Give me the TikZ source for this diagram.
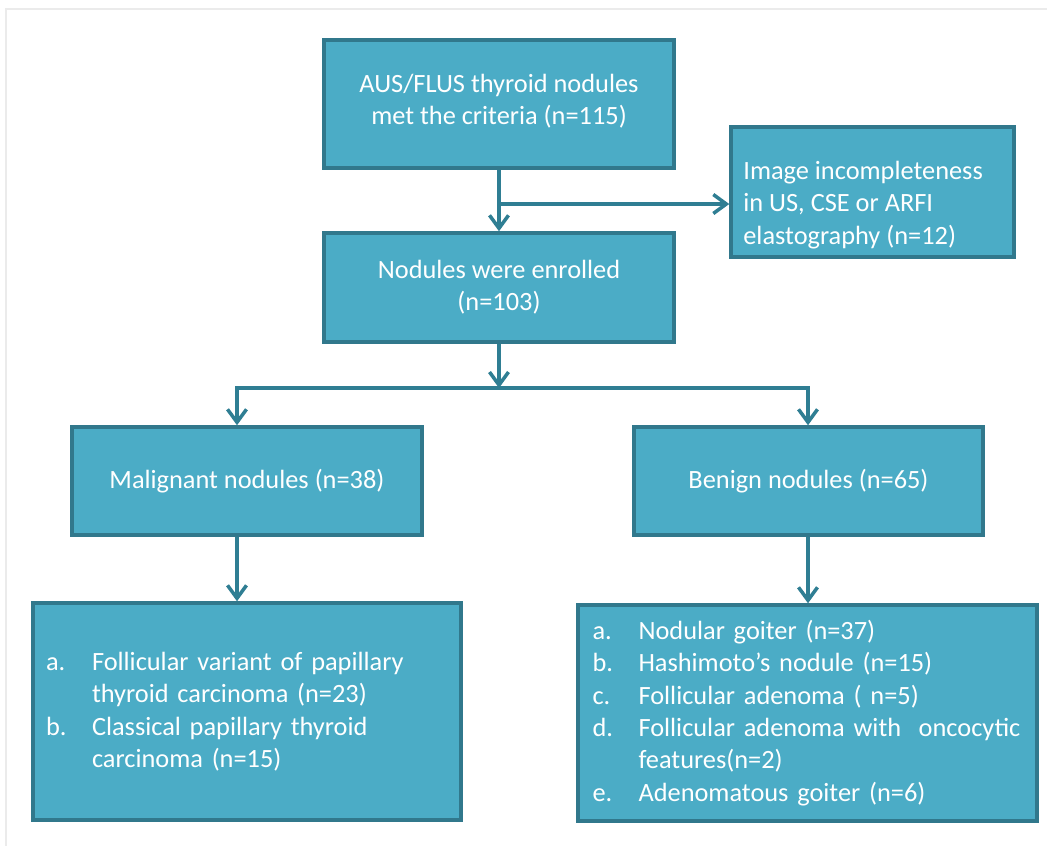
\documentclass[tikz,border=0pt]{standalone}
\usepackage{fontspec}
\setmainfont{Carlito}
\usetikzlibrary{arrows.meta, positioning}
\definecolor{boxfill}{HTML}{4BACC6}
\definecolor{boxline}{HTML}{31788C}
\definecolor{linkcol}{HTML}{2F7E93}
\definecolor{framegray}{HTML}{EBEBEB}
\newcommand{\lbl}[1]{\makebox[0.92cm][l]{#1}}

\begin{document}
\begin{tikzpicture}[
    x=0.02cm, y=-0.02cm,
    box/.style={draw=boxline, line width=2pt, fill=boxfill, text=white, font=\fontsize{15}{18.4}\selectfont, align=center, inner sep=0pt},
    boxtext/.style={text=white, font=\fontsize{15}{18.4}\selectfont, align=left, inner sep=0pt},
    listbox/.style={box, align=left, inner ysep=0pt},
    link/.style={draw=linkcol, line width=2pt},
    arrow/.style={link, -{Straight Barb[length=2.6mm, width=3.8mm, line width=2pt]}}
]
    \useasboundingbox (0,0) rectangle (1047,846);
    \draw[framegray, line width=0.6pt] (6,846) -- (6,9) -- (1047,9);

    % Boxes
    \node[box, minimum width=7cm, minimum height=2.56cm] (top) at (499,104) {AUS/FLUS thyroid nodules\\met the criteria (n=115)\\[-0.45cm]};
    \node[box, minimum width=5.66cm, minimum height=2.6cm] (exc) at (872.5,192) {};
    \node[boxtext, anchor=west] (excT) at (743,205) {Image incompleteness\\in US, CSE or ARFI\\elastography (n=12)};
    \node[box, minimum width=7cm, minimum height=2.18cm] (enr) at (499,287.5) {Nodules were enrolled\\(n=103)};
    \node[box, minimum width=7cm, minimum height=2.16cm] (mal) at (247,481) {Malignant nodules (n=38)};
    \node[box, minimum width=6.98cm, minimum height=2.16cm] (ben) at (808.5,481) {Benign nodules (n=65)};

    % Lists
    \node[listbox, text width=8.04cm, inner xsep=0.26cm, minimum height=4.34cm] (malL) at (247,711.5) {%
        \lbl{a.}Follicular variant of papillary\\
        \lbl{}thyroid carcinoma (n=23)\\
        \lbl{b.}Classical papillary thyroid\\
        \lbl{}carcinoma (n=15)};
    \node[listbox, text width=8.6cm, inner xsep=0.29cm, minimum height=4.32cm] (benL) at (807.5,713) {%
        \lbl{a.}Nodular goiter (n=37)\\
        \lbl{b.}Hashimoto’s nodule (n=15)\\
        \lbl{c.}Follicular adenoma ( n=5)\\
        \lbl{d.}\mbox{Follicular adenoma with\ \ oncocytic}\\
        \lbl{}features(n=2)\\
        \lbl{e.}Adenomatous goiter (n=6)};

    % Split points
    \coordinate (brk) at (499,204);
    \coordinate (split) at (499,388);
    \coordinate (splitL) at (237,388);
    \coordinate (splitR) at (808,388);

    % Connectors
    \draw[arrow] (top) -- (enr);
    \draw[arrow] (brk) -- (brk -| exc.west);
    \draw[arrow] (enr) -- (split);
    \draw[arrow] (split) -- (splitL) -- (splitL |- mal.north);
    \draw[arrow] (split) -- (splitR) -- (splitR |- ben.north);
    \draw[arrow] (splitL |- mal.south) -- (splitL |- malL.north);
    \draw[arrow] (splitR |- ben.south) -- (splitR |- benL.north);
\end{tikzpicture}
\end{document}
